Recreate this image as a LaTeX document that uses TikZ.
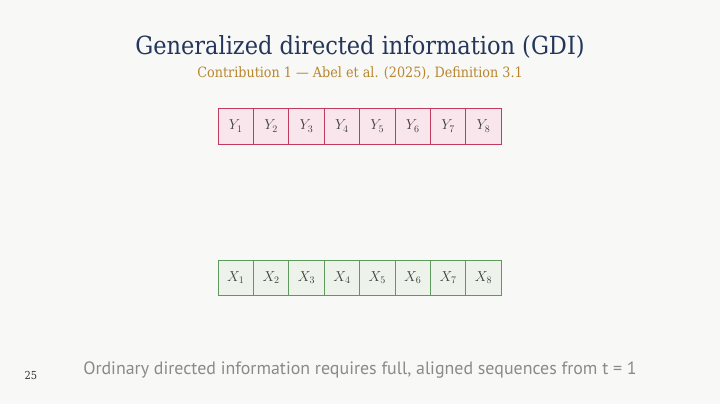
\documentclass[tikz,border=0pt]{standalone}
\usepackage{fontspec}
\setmainfont{DejaVu Serif Condensed}
\setsansfont{PT Sans}
\definecolor{bg}{HTML}{F8F8F6}
\definecolor{titlec}{HTML}{24365A}
\definecolor{subc}{HTML}{B8862E}
\definecolor{ybord}{HTML}{C23A5E}
\definecolor{yfill}{HTML}{F8E6EC}
\definecolor{xbord}{HTML}{5E9A5E}
\definecolor{xfill}{HTML}{EDF2EA}
\definecolor{footc}{HTML}{8A8A8A}
\tikzset{
  ybox/.style={draw=ybord, fill=yfill, line width=0.9pt, minimum width=35.4pt, minimum height=36pt, inner sep=0pt, text=black!75},
  xbox/.style={draw=xbord, fill=xfill, line width=0.9pt, minimum width=35.4pt, minimum height=35pt, inner sep=0pt, text=black!75},
}
\begin{document}
\begin{tikzpicture}[x=1pt,y=-1pt]
\fill[bg] (0,0) rectangle (720,404);
\useasboundingbox (0,0) rectangle (720,404);
\node[text=titlec, font=\fontsize{25}{28}\selectfont] (title) at (360,47) {Generalized directed information (GDI)};
\node[text=subc, font=\fontsize{14.2}{16}\selectfont] (sub) at (360,73) {Contribution 1 — Abel et al. (2025), Definition 3.1};
\foreach \i in {1,...,8} {
  \node[ybox] (y\i) at ({218+35.4*(\i-0.5)},126) {\fontsize{14}{16}\selectfont$Y_{\i}$};
  \node[xbox] (x\i) at ({218+35.4*(\i-0.5)},277.5) {\fontsize{14}{16}\selectfont$X_{\i}$};
}
\node[text=footc, font=\sffamily\fontsize{17.9}{20}\selectfont] (foot) at (360,370) {Ordinary directed information requires full, aligned sequences from t = 1};
\node[text=black!80, font=\fontsize{11}{13}\selectfont] (pg) at (31,375) {25};
\end{tikzpicture}
\end{document}
